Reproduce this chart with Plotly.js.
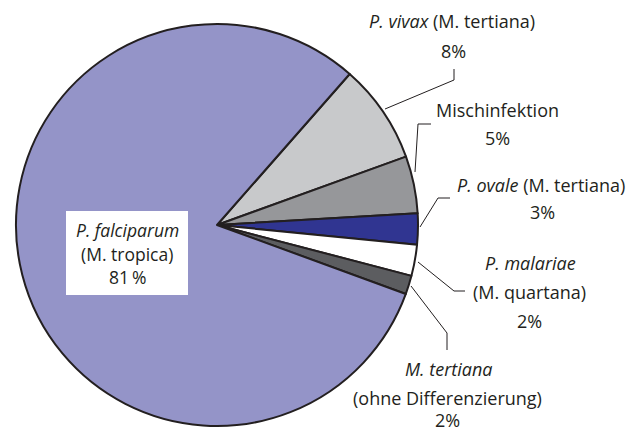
<!DOCTYPE html>
<html><head><meta charset="utf-8">
<script src="https://cdn.plot.ly/plotly-3.0.1.min.js"></script>
<style>html,body{margin:0;padding:0;background:#fff}#c{width:639px;height:433px}</style>
</head><body><div id="c"></div>
<script>
const categories = ["P. vivax", "Mischinfektion", "P. ovale", "P. malariae", "M. tertiana", "P. falciparum"];
const sliceValues = [8.0, 4.6, 2.5, 2.5, 1.5, 80.9];
const labelPercents = ["8%", "5%", "3%", "2%", "2%", "81\u2009%"];
const sliceColors = ["#c8c9cb", "#96979a", "#303591", "#ffffff", "#5c5d60", "#9494c8"];

const W = 639, H = 433;
const px = x => x / W, py = y => 1 - y / H;
const FONT = "Open Sans";
const TC = "#231f20";

function ann(text, x, y, size) {
  return {text: text, x: px(x), y: py(y), xref: "paper", yref: "paper", showarrow: false,
    xanchor: "center", yanchor: "middle", font: {family: FONT, size: size || 18, color: TC}};
}
function path(pts) {
  return {type: "path", xref: "paper", yref: "paper", layer: "above",
    path: pts.map((p, i) => (i ? "L" : "M") + px(p[0]) + "," + py(p[1])).join(" "),
    line: {color: TC, width: 1}};
}

const annotations = [
  ann("<i>" + categories[0] + "</i> (M. tertiana)", 452, 21),
  ann(labelPercents[0], 453, 51),
  ann(categories[1], 497, 110),
  ann(labelPercents[1], 497, 138),
  ann("<i>" + categories[2] + "</i> (M. tertiana)", 541, 185),
  ann(labelPercents[2], 542, 212),
  ann("<i>" + categories[3] + "</i>", 530, 263),
  ann("(M. quartana)", 529, 292),
  ann(labelPercents[3], 529, 321),
  ann("<i>" + categories[4] + "</i>", 448, 369),
  ann("(ohne Differenzierung)", 447, 398),
  ann(labelPercents[4], 447, 420),
  ann("<i>" + categories[5] + "</i>", 127, 230, 17.5),
  ann("(M. tropica)", 127, 254, 17.5),
  ann(labelPercents[5], 127, 277, 17.5)
];

const shapes = [
  {type: "rect", xref: "paper", yref: "paper", layer: "above",
   x0: px(66), x1: px(188), y0: py(211), y1: py(295), fillcolor: "#ffffff", line: {width: 0}},
  path([[385, 109], [454, 80], [454, 69]]),
  path([[415, 172], [418, 124], [431, 124]]),
  path([[420, 227], [438, 198], [450, 198]]),
  path([[418, 262], [454, 291], [465, 291]]),
  path([[411, 286], [447, 333], [447, 350]])
];

const trace = {
  type: "pie", labels: categories, values: sliceValues, sort: false,
  direction: "clockwise", rotation: 41.3, textinfo: "none", hoverinfo: "none",
  marker: {colors: sliceColors, line: {color: TC, width: 2}},
  domain: {x: [px(16), px(418)], y: [py(426), py(24)]},
  showlegend: false
};

Plotly.newPlot("c", [trace], {
  width: W, height: H, margin: {l: 0, r: 0, t: 0, b: 0},
  paper_bgcolor: "#fff", showlegend: false,
  annotations: annotations, shapes: shapes
}, {staticPlot: true});
</script></body></html>
